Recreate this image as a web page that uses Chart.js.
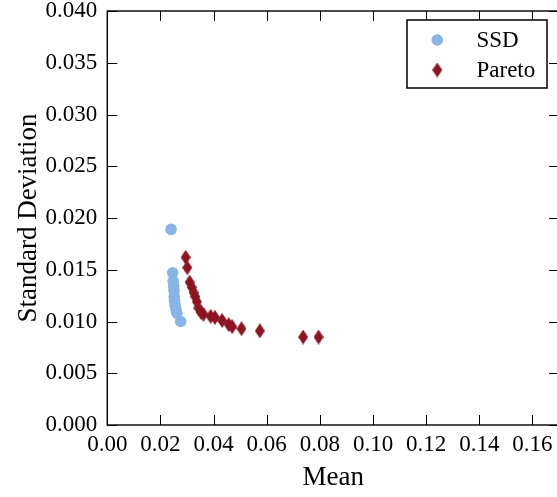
<!DOCTYPE html>
<html><head><meta charset="utf-8">
<script src="https://cdn.jsdelivr.net/npm/chart.js@4.4.0/dist/chart.umd.min.js"></script>
<style>
html,body{margin:0;padding:0;background:#fff;overflow:hidden;width:557px;height:497px}
#wrap{position:absolute;left:0;top:0;width:566px;height:497px}
</style>
</head><body><div id="wrap"><canvas id="c" width="566" height="497"></canvas></div>
<script>
const seriesLabels = ['SSD', 'Pareto'];
const ssdMean = [0.0240, 0.0246, 0.0248, 0.0250, 0.0251, 0.0252, 0.0253, 0.0255, 0.0258, 0.0262, 0.0276];
const ssdStd  = [0.0189, 0.0147, 0.0139, 0.0134, 0.0130, 0.0124, 0.0120, 0.0116, 0.0112, 0.0108, 0.0100];
const paretoMean = [0.0295, 0.0301, 0.0310, 0.0318, 0.0325, 0.0331, 0.0337, 0.0343, 0.0352, 0.0362, 0.0389, 0.0405, 0.0432, 0.0457, 0.0470, 0.0505, 0.0574, 0.0737, 0.0795];
const paretoStd  = [0.0162, 0.0152, 0.0138, 0.0133, 0.0128, 0.0124, 0.0119, 0.0113, 0.0109, 0.0107, 0.0105, 0.0104, 0.0101, 0.0097, 0.0095, 0.0093, 0.0091, 0.0085, 0.0085];
const xTickValues = [0.00, 0.02, 0.04, 0.06, 0.08, 0.10, 0.12, 0.14, 0.16];
const yTickValues = [0.000, 0.005, 0.010, 0.015, 0.020, 0.025, 0.030, 0.035, 0.040];
const xTitle = 'Mean';
const yTitle = 'Standard Deviation';

const FONT = "'Liberation Serif', 'Times New Roman', serif";
const BLUE = '#89b4e6';
const RED = '#8b1522';

function makeDiamond(w, h, color) {
  const cv = document.createElement('canvas');
  cv.width = w; cv.height = h;
  const g = cv.getContext('2d');
  g.fillStyle = color;
  g.beginPath();
  g.moveTo(w / 2, 0); g.lineTo(w, h / 2); g.lineTo(w / 2, h); g.lineTo(0, h / 2);
  g.closePath(); g.fill();
  return cv;
}
const diamond = makeDiamond(10, 15, RED);

const toPts = (xs, ys) => xs.map((x, i) => ({x: x, y: ys[i]}));

const framePlugin = {
  id: 'frame',
  beforeDatasetsDraw(chart) {
    const {ctx, chartArea: a, scales: {x, y}} = chart;
    ctx.save();
    ctx.strokeStyle = '#000';
    ctx.lineWidth = 1;
    const L = 10;
    ctx.beginPath();
    x.ticks.forEach(t => {
      const px = Math.round(x.getPixelForValue(t.value)) + 0.5;
      ctx.moveTo(px, a.bottom); ctx.lineTo(px, a.bottom - L);
      ctx.moveTo(px, a.top); ctx.lineTo(px, a.top + L);
    });
    y.ticks.forEach(t => {
      const py = Math.round(y.getPixelForValue(t.value)) + 0.5;
      ctx.moveTo(a.left, py); ctx.lineTo(a.left + L, py);
      ctx.moveTo(a.right, py); ctx.lineTo(a.right - L, py);
    });
    ctx.stroke();
    ctx.lineWidth = 1.4;
    ctx.strokeRect(a.left, a.top, a.right - a.left, a.bottom - a.top);
    ctx.restore();
  },
  afterDraw(chart) {
    const {ctx} = chart;
    ctx.save();
    const bx = 407, by = 20, bw = 140, bh = 68;
    ctx.fillStyle = '#fff';
    ctx.fillRect(bx, by, bw, bh);
    ctx.strokeStyle = '#000';
    ctx.lineWidth = 1.5;
    ctx.strokeRect(bx, by, bw, bh);
    ctx.fillStyle = BLUE;
    ctx.beginPath(); ctx.arc(437.3, 40, 5.8, 0, Math.PI * 2); ctx.fill();
    ctx.drawImage(diamond, 437.3 - 5, 70 - 7.5);
    ctx.fillStyle = '#000';
    ctx.font = '23px ' + FONT;
    ctx.textBaseline = 'middle';
    ctx.textAlign = 'left';
    ctx.fillText(chart.data.datasets[0].label, 476.5, 41);
    ctx.fillText(chart.data.datasets[1].label, 476.5, 71);
    ctx.restore();
  }
};

new Chart(document.getElementById('c'), {
  type: 'scatter',
  data: {
    datasets: [
      {label: seriesLabels[0], data: toPts(ssdMean, ssdStd), pointStyle: 'circle', pointRadius: 5.8,
       backgroundColor: BLUE, borderColor: BLUE, borderWidth: 0, pointHoverRadius: 5.8},
      {label: seriesLabels[1], data: toPts(paretoMean, paretoStd), pointStyle: diamond, pointRadius: 7,
       backgroundColor: RED, borderColor: RED, borderWidth: 0}
    ]
  },
  options: {
    responsive: false,
    animation: false,
    devicePixelRatio: 1,
    events: [],
    layout: {padding: {top: 11, right: 0.7, left: 0, bottom: 0}},
    plugins: {legend: {display: false}, tooltip: {enabled: false}},
    scales: {
      x: {
        type: 'linear', min: 0, max: 0.17,
        afterBuildTicks: s => { s.ticks = xTickValues.map(v => ({value: v})); },
        afterFit: s => { s.height = 72; s.paddingLeft = 0; s.paddingRight = 0; },
        grid: {display: false, drawTicks: false},
        border: {display: false},
        ticks: {color: '#000', font: {family: FONT, size: 23}, padding: 6, maxRotation: 0, autoSkip: false,
                callback: v => Number(v).toFixed(2)},
        title: {display: true, text: xTitle, color: '#000', font: {family: FONT, size: 27}, padding: {top: 0, bottom: 3}}
      },
      y: {
        type: 'linear', min: 0, max: 0.04,
        afterBuildTicks: s => { s.ticks = yTickValues.map(v => ({value: v})); },
        afterFit: s => { s.width = 107.3; s.paddingTop = 0; s.paddingBottom = 0; },
        grid: {display: false, drawTicks: false},
        border: {display: false},
        ticks: {color: '#000', font: {family: FONT, size: 23}, padding: 10, autoSkip: false,
                callback: v => Number(v).toFixed(3)},
        title: {display: true, text: yTitle, color: '#000', font: {family: FONT, size: 27}, padding: {top: 13, bottom: 0}}
      }
    }
  },
  plugins: [framePlugin]
});
</script>
</body></html>
